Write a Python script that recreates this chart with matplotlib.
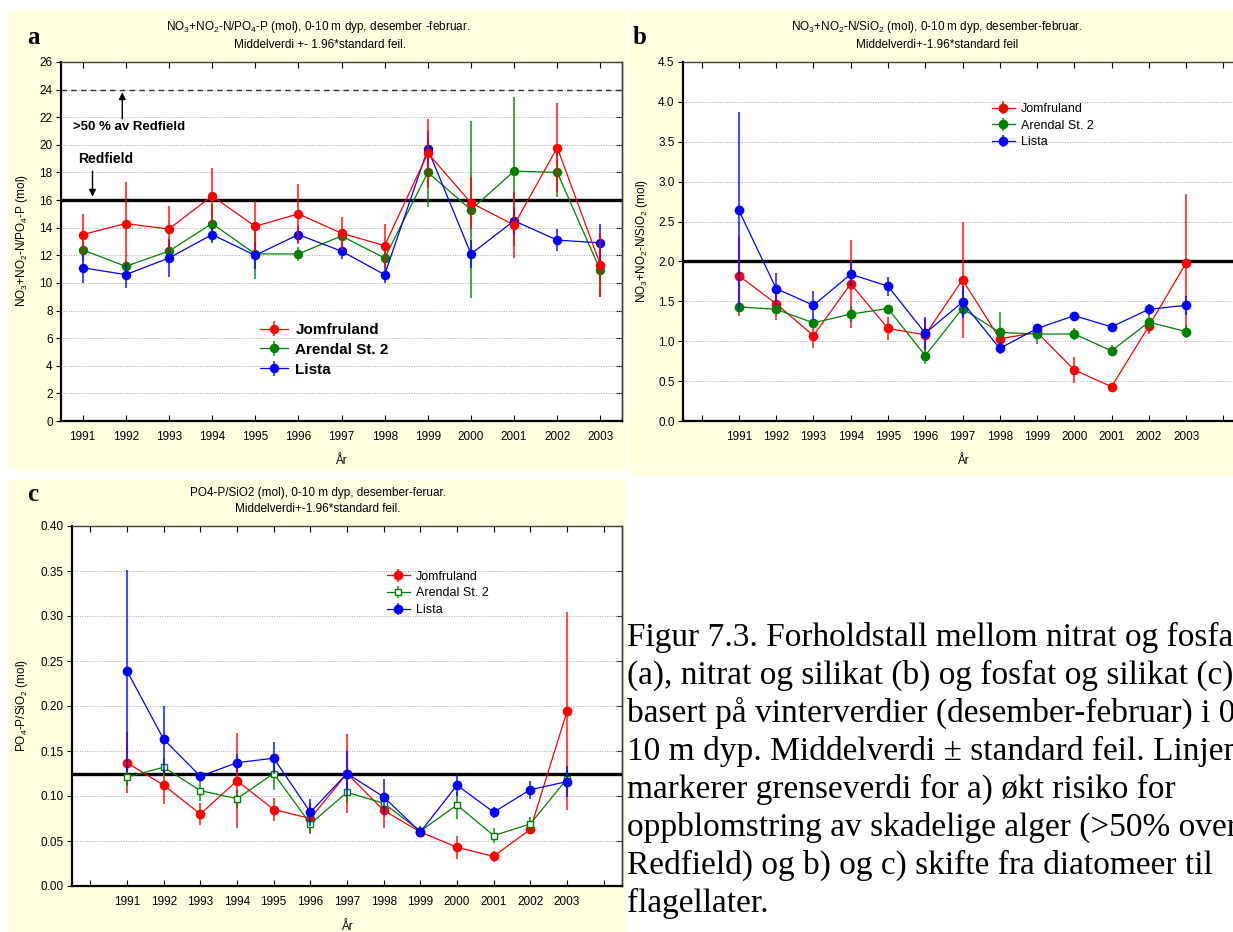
import matplotlib
matplotlib.use("Agg")
import matplotlib.pyplot as plt
from matplotlib.patches import Rectangle
from matplotlib.colors import to_rgba
import numpy as np

plt.rcParams['font.family'] = ['Liberation Sans', 'DejaVu Sans']
plt.rcParams['mathtext.default'] = 'regular'

years = np.arange(1991, 2004)
stations = ["Jomfruland", "Arendal St. 2", "Lista"]
colors = ["#FF0000", "#008000", "#0000FF"]

# a) NO3+NO2-N / PO4-P
np_jomf = [13.5, 14.3, 13.9, 16.3, 14.1, 15.0, 13.6, 12.7, 19.4, 15.8, 14.2, 19.8, 11.3]
np_jomf_err = [1.5, 3.0, 1.7, 2.0, 1.8, 2.2, 1.2, 1.6, 2.5, 1.9, 2.4, 3.2, 2.3]
np_aren = [12.4, 11.2, 12.3, 14.3, 12.1, 12.1, 13.4, 11.8, 18.0, 15.3, 18.1, 18.0, 10.9]
np_aren_err = [0.8, 0.3, 0.8, 1.4, 1.8, 0.5, 0.5, 0.6, 2.5, 6.4, 5.4, 1.8, 1.9]
np_list = [11.1, 10.6, 11.8, 13.5, 12.0, 13.5, 12.3, 10.6, 19.7, 12.1, 14.5, 13.1, 12.9]
np_list_err = [1.1, 1.0, 1.4, 0.5, 1.0, 0.6, 0.6, 0.6, 1.3, 1.0, 1.0, 0.8, 1.4]

# b) NO3+NO2-N / SiO2
ns_jomf = [1.82, 1.47, 1.07, 1.72, 1.16, 1.08, 1.77, 1.03, 1.11, 0.64, 0.43, 1.19, 1.98]
ns_jomf_err = [0.50, 0.20, 0.15, 0.55, 0.14, 0.20, 0.73, 0.05, 0.05, 0.16, 0.03, 0.10, 0.87]
ns_aren = [1.43, 1.40, 1.23, 1.34, 1.41, 0.82, 1.41, 1.11, 1.09, 1.09, 0.88, 1.24, 1.12]
ns_aren_err = [0.05, 0.04, 0.05, 0.10, 0.05, 0.10, 0.10, 0.26, 0.13, 0.08, 0.07, 0.10, 0.08]
ns_list = [2.64, 1.66, 1.45, 1.84, 1.69, 1.10, 1.49, 0.91, 1.16, 1.32, 1.18, 1.40, 1.45]
ns_list_err = [1.23, 0.20, 0.18, 0.15, 0.12, 0.20, 0.20, 0.07, 0.05, 0.02, 0.02, 0.07, 0.12]

# c) PO4-P / SiO2
ps_jomf = [0.137, 0.112, 0.080, 0.117, 0.085, 0.075, 0.125, 0.084, 0.060, 0.043, 0.033, 0.063, 0.194]
ps_jomf_err = [0.034, 0.021, 0.012, 0.053, 0.013, 0.017, 0.044, 0.019, 0.005, 0.013, 0.006, 0.005, 0.110]
ps_aren = [0.121, 0.132, 0.106, 0.097, 0.125, 0.069, 0.104, 0.092, 0.061, 0.090, 0.056, 0.069, 0.119]
ps_aren_err = [0.010, 0.010, 0.012, 0.010, 0.018, 0.010, 0.012, 0.010, 0.006, 0.015, 0.008, 0.008, 0.010]
ps_list = [0.239, 0.163, 0.122, 0.137, 0.142, 0.082, 0.125, 0.099, 0.060, 0.112, 0.082, 0.107, 0.116]
ps_list_err = [0.112, 0.037, 0.005, 0.010, 0.018, 0.015, 0.025, 0.020, 0.006, 0.012, 0.006, 0.010, 0.017]

caption_lines = [
    "Figur 7.3. Forholdstall mellom nitrat og fosfat",
    "(a), nitrat og silikat (b) og fosfat og silikat (c)",
    "basert på vinterverdier (desember-februar) i 0-",
    "10 m dyp. Middelverdi ± standard feil. Linjene",
    "markerer grenseverdi for a) økt risiko for",
    "oppblomstring av skadelige alger (>50% over",
    "Redfield) og b) og c) skifte fra diatomeer til",
    "flagellater.",
]

W, H = 1233, 932
fig = plt.figure(figsize=(W / 100, H / 100), dpi=100)


def fx(px):
    return px / W


def fy(py):
    return 1 - py / H


def box(x0, y0, x1, y1):
    return [fx(x0), fy(y1), fx(x1) - fx(x0), fy(y0) - fy(y1)]


bg = "#FFFFE0"
for x0, y0, x1, y1 in [(8, 10, 628, 470), (630, 10, 1245, 476), (8, 480, 626, 932)]:
    fig.patches.append(Rectangle((fx(x0), fy(y1)), fx(x1) - fx(x0), fy(y0) - fy(y1),
                                 transform=fig.transFigure, facecolor=bg,
                                 edgecolor='none', zorder=-5))


def draw_panel(ax, series, errs, yticks, yfmt, xticks, ref, zorders, markers,
               ms=6, leg_pos=None, leg_size=9, leg_bold=False):
    handles = []
    for vals, err, col, name, z, mk in zip(series, errs, colors, stations, zorders, markers):
        mfc = col if mk == 'o' else 'white'
        h = ax.errorbar(years, vals, yerr=err, color=col, marker=mk, ms=ms if mk == 'o' else ms - 1,
                        mfc=mfc, mec=col, lw=0.9, elinewidth=1.5, capsize=0,
                        ecolor=to_rgba(col, 0.7), label=name, zorder=z)
        handles.append(h)
    ax.axhline(ref, color='black', lw=2.4, zorder=2)
    ax.set_ylim(yticks[0], yticks[-1])
    ax.set_yticks(yticks)
    ax.set_yticklabels([yfmt % v for v in yticks])
    ax.set_xticks(xticks)
    ax.set_xticklabels([str(t) if 1991 <= t <= 2003 else "" for t in xticks])
    ax.set_xlim(xticks[0] - 0.5, xticks[-1] + 0.5)
    ax.yaxis.grid(True, linestyle=(0, (1, 1.5)), color='#A8A8A8', lw=0.7)
    ax.set_axisbelow(True)
    for s in ['left', 'bottom']:
        ax.spines[s].set_linewidth(1.6)
    for s in ['top', 'right']:
        ax.spines[s].set_linewidth(1.0)
        ax.spines[s].set_color('#404040')
    ax.tick_params(axis='x', direction='in', top=True, length=4, pad=7, labelsize=8.5)
    ax.tick_params(axis='y', direction='out', length=3.5, pad=2.5, labelsize=8.5)
    sec = ax.secondary_yaxis('right')
    sec.set_yticks(yticks)
    sec.tick_params(direction='in', length=4, labelright=False)
    sec.spines['right'].set_linewidth(1.0)
    sec.spines['right'].set_color('#404040')
    ax.legend(handles=handles, loc='upper left', bbox_to_anchor=leg_pos,
              frameon=False, borderpad=0, borderaxespad=0, handlelength=1.8,
              handletextpad=0.5, labelspacing=0.38,
              prop={'size': leg_size, 'weight': 'bold' if leg_bold else 'normal'})
    return ax


# panel a
ax_a = fig.add_axes(box(61, 62, 622, 421))
draw_panel(ax_a, [np_jomf, np_aren, np_list], [np_jomf_err, np_aren_err, np_list_err],
           np.arange(0, 27, 2), "%d", np.arange(1991, 2004), 16, [5, 3, 4], ['o', 'o', 'o'],
           ms=5.8, leg_pos=(0.355, 0.273), leg_size=11, leg_bold=True)
ax_a.axhline(24, color='#303030', lw=1.0, ls=(0, (4, 3)), zorder=2)
ax_a.annotate('', xy=(1991.92, 24.0), xytext=(1991.92, 21.7),
              arrowprops=dict(arrowstyle='-|>', color='black', lw=1.0, mutation_scale=10))
ax_a.text(1990.77, 21.3, ">50 % av Redfield", fontsize=9.5, fontweight='bold', va='center')
ax_a.annotate('', xy=(1991.23, 16.05), xytext=(1991.23, 18.3),
              arrowprops=dict(arrowstyle='-|>', color='black', lw=1.0, mutation_scale=10))
ax_a.text(1990.9, 19.0, "Redfield", fontsize=10, fontweight='bold', va='center')

# panel b
ax_b = fig.add_axes(box(683, 62, 1242, 421))
draw_panel(ax_b, [ns_jomf, ns_aren, ns_list], [ns_jomf_err, ns_aren_err, ns_list_err],
           np.arange(0, 4.51, 0.5), "%.1f", np.arange(1990, 2005), 2.0, [3, 4, 5], ['o', 'o', 'o'],
           ms=6, leg_pos=(0.553, 0.886), leg_size=9)

# panel c
ax_c = fig.add_axes(box(72, 526, 622, 886))
draw_panel(ax_c, [ps_jomf, ps_aren, ps_list], [ps_jomf_err, ps_aren_err, ps_list_err],
           np.arange(0, 0.401, 0.05), "%.2f", np.arange(1990, 2005), 0.125, [3, 4, 5], ['o', 's', 'o'],
           ms=6, leg_pos=(0.573, 0.876), leg_size=9)

# titles, axis labels, panel letters
tfs = 8.5
fig.text(fx(318), fy(27), "NO$_3$+NO$_2$-N/PO$_4$-P (mol), 0-10 m dyp, desember -februar.",
         ha='center', va='center', fontsize=tfs)
fig.text(fx(320), fy(45), "Middelverdi +- 1.96*standard feil.", ha='center', va='center', fontsize=tfs)
fig.text(fx(937), fy(27), "NO$_3$+NO$_2$-N/SiO$_2$ (mol), 0-10 m dyp, desember-februar.",
         ha='center', va='center', fontsize=tfs)
fig.text(fx(937), fy(45), "Middelverdi+-1.96*standard feil", ha='center', va='center', fontsize=tfs)
fig.text(fx(318), fy(493), "PO4-P/SiO2 (mol), 0-10 m dyp, desember-feruar.",
         ha='center', va='center', fontsize=tfs)
fig.text(fx(318), fy(509), "Middelverdi+-1.96*standard feil.", ha='center', va='center', fontsize=tfs)

fig.text(fx(22), fy(241), "NO$_3$+NO$_2$-N/PO$_4$-P (mol)", rotation=90, ha='center', va='center', fontsize=8.5)
fig.text(fx(642), fy(241), "NO$_3$+NO$_2$-N/SiO$_2$ (mol)", rotation=90, ha='center', va='center', fontsize=8.5)
fig.text(fx(22), fy(706), "PO$_4$-P/SiO$_2$ (mol)", rotation=90, ha='center', va='center', fontsize=8.5)

fig.text(fx(341), fy(461), "År", ha='center', va='center', fontsize=8.5)
fig.text(fx(963), fy(461), "År", ha='center', va='center', fontsize=8.5)
fig.text(fx(347), fy(927), "År", ha='center', va='center', fontsize=8.5)

for lab, x, y in [("a", 27, 44), ("b", 633, 44), ("c", 27, 501)]:
    fig.text(fx(x), fy(y), lab, family='Liberation Serif', fontweight='bold', fontsize=18,
             ha='left', va='baseline')

# caption runs past the right edge, as in the original page crop
for i, line in enumerate(caption_lines):
    fig.text(fx(627), fy(646 + i * 38), line, family='Liberation Serif', fontsize=24,
             ha='left', va='baseline')

fig.savefig("out.png", dpi=100)
